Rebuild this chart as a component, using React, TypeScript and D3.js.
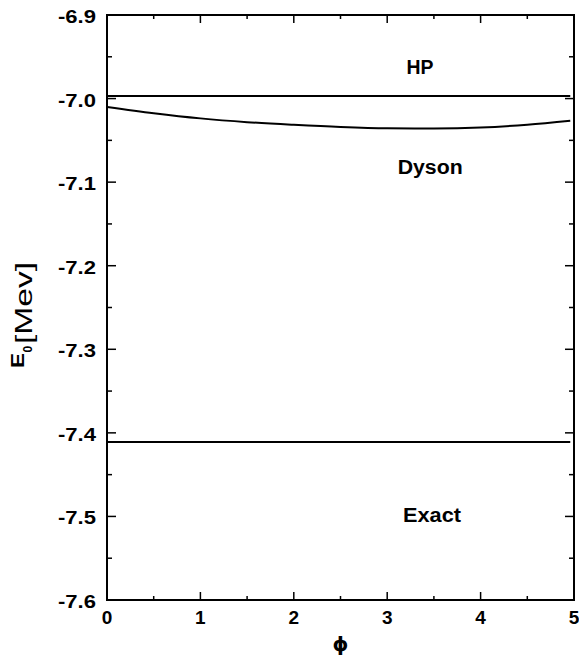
import React from "react";
import * as d3 from "d3";

const phiValues = [0, 0.5, 1.0, 1.5, 2.0, 2.5, 3.0, 3.5, 4.0, 4.5, 4.96];
const dysonValues = [-7.01, -7.0175, -7.0237, -7.0282, -7.0314, -7.034, -7.0355, -7.0357, -7.0346, -7.0313, -7.0266];
const hpPhi = [0, 4.96];
const hpValues = [-6.997, -6.997];
const exactPhi = [0, 4.96];
const exactValues = [-7.411, -7.411];

const xTicks = [0, 1, 2, 3, 4, 5];
const yTicks = [-6.9, -7.0, -7.1, -7.2, -7.3, -7.4, -7.5, -7.6];
const yTickLabels = ["-6.9", "-7.0", "-7.1", "-7.2", "-7.3", "-7.4", "-7.5", "-7.6"];

const labelNames = ["HP", "Dyson", "Exact"];
const labelPhi = [3.35, 3.46, 3.48];
const labelE = [-6.9707, -7.0904, -7.5072];

const W = 579;
const H = 657;
const M = { left: 107, right: 574, top: 15, bottom: 600 };
const FONT = "'Liberation Sans', Arial, Helvetica, sans-serif";

export default function App() {
  const x = d3.scaleLinear().domain([0, 5]).range([M.left, M.right]);
  const y = d3.scaleLinear().domain([-7.6, -6.9]).range([M.bottom, M.top]);

  const line = d3
    .line<[number, number]>()
    .x((d) => x(d[0]))
    .y((d) => y(d[1]))
    .curve(d3.curveMonotoneX);
  const straight = d3
    .line<[number, number]>()
    .x((d) => x(d[0]))
    .y((d) => y(d[1]));

  const dyson = phiValues.map((p, i) => [p, dysonValues[i]] as [number, number]);
  const hp = hpPhi.map((p, i) => [p, hpValues[i]] as [number, number]);
  const exact = exactPhi.map((p, i) => [p, exactValues[i]] as [number, number]);

  const xMinor = d3.range(0, 5.001, 0.5);
  const yMinor = d3.range(0, 15).map((i) => -7.6 + i * 0.05);

  return (
    <svg
      width={W}
      height={H}
      style={{ position: "absolute", left: 0, top: 0, background: "#fff" }}
      fontFamily={FONT}
    >
      <g stroke="#000" strokeWidth={1.5}>
        {xMinor.map((v, i) => {
          const major = Math.abs(v - Math.round(v)) < 1e-6;
          const len = major ? 8 : 4;
          return (
            <g key={"xt" + i}>
              <line x1={x(v)} x2={x(v)} y1={M.bottom} y2={M.bottom - len} />
              <line x1={x(v)} x2={x(v)} y1={M.top} y2={M.top + len} />
            </g>
          );
        })}
        {yMinor.map((v, i) => {
          const major = i % 2 === 0;
          const len = major ? 9 : 5;
          return (
            <g key={"yt" + i}>
              <line x1={M.left} x2={M.left + len} y1={y(v)} y2={y(v)} />
              <line x1={M.right} x2={M.right - len} y1={y(v)} y2={y(v)} />
            </g>
          );
        })}
      </g>

      <rect
        x={M.left}
        y={M.top}
        width={M.right - M.left}
        height={M.bottom - M.top}
        fill="none"
        stroke="#000"
        strokeWidth={2}
      />

      <path d={straight(hp) || ""} fill="none" stroke="#000" strokeWidth={2} />
      <path d={line(dyson) || ""} fill="none" stroke="#000" strokeWidth={2} />
      <path d={straight(exact) || ""} fill="none" stroke="#000" strokeWidth={2} />

      {yTicks.map((v, i) => (
        <text
          key={"yl" + i}
          x={96}
          y={y(v) + 8}
          textAnchor="end"
          fontSize={19}
          fontWeight="bold"
          textLength={38}
          lengthAdjust="spacingAndGlyphs"
        >
          {yTickLabels[i]}
        </text>
      ))}

      {xTicks.map((v, i) => (
        <text
          key={"xl" + i}
          x={x(v)}
          y={M.bottom + 24}
          textAnchor="middle"
          fontSize={19}
          fontWeight="bold"
        >
          {String(v)}
        </text>
      ))}

      {labelNames.map((n, i) => (
        <text
          key={"lab" + i}
          x={x(labelPhi[i])}
          y={y(labelE[i])}
          textAnchor="middle"
          fontSize={19.5}
          fontWeight="bold"
          textLength={n === "HP" ? 27 : n === "Dyson" ? 65 : 58}
          lengthAdjust="spacingAndGlyphs"
        >
          {n}
        </text>
      ))}

      <text
        x={(M.left + M.right) / 2}
        y={651}
        textAnchor="middle"
        fontSize={20}
        fontWeight="bold"
        fontFamily="'DejaVu Sans', sans-serif"
      >
        ϕ
      </text>

      <g transform={`translate(24, 368) rotate(-90)`}>
        <text x={0} y={0} fontSize={19} fontWeight="bold" textLength={15} lengthAdjust="spacingAndGlyphs">
          E
        </text>
        <text x={15.5} y={8} fontSize={12} fontWeight="bold">
          0
        </text>
        <text x={24} y={7.5} fontSize={24} textLength={82} lengthAdjust="spacingAndGlyphs">
          [Mev]
        </text>
      </g>
    </svg>
  );
}
